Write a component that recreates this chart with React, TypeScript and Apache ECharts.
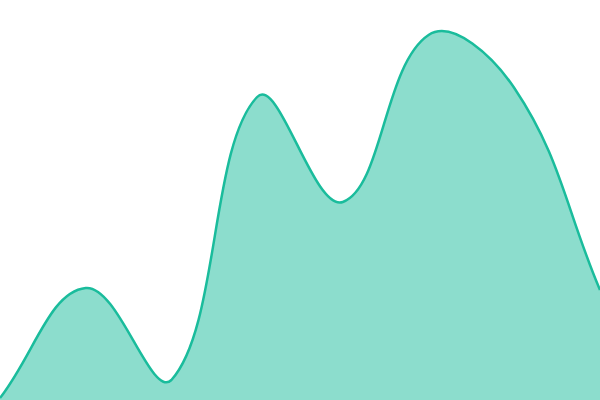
import React, { useEffect, useRef } from "react";
import * as echarts from "echarts";

const categories = ["1", "2", "3", "4", "5", "6", "7", "8"];
const values = [2, 112, 20, 303, 198, 365, 312, 110];

function splinePath(pts: number[][], t: number, top: number, bottom: number): string {
  const n = pts.length;
  const cps: { prev: number[]; next: number[] }[] = [];
  const clamp = (v: number) => Math.max(top, Math.min(bottom, v));
  for (let i = 0; i < n; i++) {
    const cur = pts[i];
    const prev = pts[Math.max(0, i - 1)];
    const next = pts[Math.min(n - 1, i + 1)];
    const d01 = Math.hypot(cur[0] - prev[0], cur[1] - prev[1]);
    const d12 = Math.hypot(next[0] - cur[0], next[1] - cur[1]);
    let s01 = d01 / (d01 + d12);
    let s12 = d12 / (d01 + d12);
    if (!isFinite(s01)) s01 = 0;
    if (!isFinite(s12)) s12 = 0;
    const fa = t * s01;
    const fb = t * s12;
    cps.push({
      prev: [cur[0] - fa * (next[0] - prev[0]), clamp(cur[1] - fa * (next[1] - prev[1]))],
      next: [cur[0] + fb * (next[0] - prev[0]), clamp(cur[1] + fb * (next[1] - prev[1]))],
    });
  }
  let d = `M${pts[0][0]},${pts[0][1]}`;
  for (let i = 0; i < n - 1; i++) {
    const a = cps[i].next;
    const b = cps[i + 1].prev;
    const p = pts[i + 1];
    d += `C${a[0]},${a[1]},${b[0]},${b[1]},${p[0]},${p[1]}`;
  }
  return d;
}

export default function App() {
  const ref = useRef<HTMLDivElement>(null);
  useEffect(() => {
    if (!ref.current) return;
    const chart = echarts.init(ref.current, null, { renderer: "svg" });
    chart.setOption({
      animation: false,
      grid: { left: 0, right: 0, top: 0, bottom: 0 },
      xAxis: { type: "category", data: categories, boundaryGap: false, show: false },
      yAxis: { type: "value", min: 0, max: 400, show: false },
      series: [
        {
          type: "custom",
          data: values,
          renderItem: (params: any, api: any) => {
            if (params.dataIndex !== 0) return null;
            const pts = values.map((v, i) => api.coord([i, v]));
            const base0 = api.coord([0, 0]);
            const baseN = api.coord([values.length - 1, 0]);
            const topY = api.coord([0, 400])[1];
            const line = splinePath(pts, 0.4, topY, base0[1]);
            const area = line + `L${baseN[0]},${baseN[1]}L${base0[0]},${base0[1]}Z`;
            return {
              type: "group",
              children: [
                {
                  type: "path",
                  shape: { pathData: area },
                  style: { fill: "rgba(26,188,156,0.5)", stroke: "none" },
                },
                {
                  type: "path",
                  shape: { pathData: line },
                  style: { fill: "none", stroke: "#1abc9c", lineWidth: 2.5 },
                },
              ],
            };
          },
        },
      ],
    });
    return () => chart.dispose();
  }, []);
  return (
    <div
      ref={ref}
      style={{ position: "fixed", left: 0, top: 0, width: 600, height: 400, background: "#fff" }}
    />
  );
}
